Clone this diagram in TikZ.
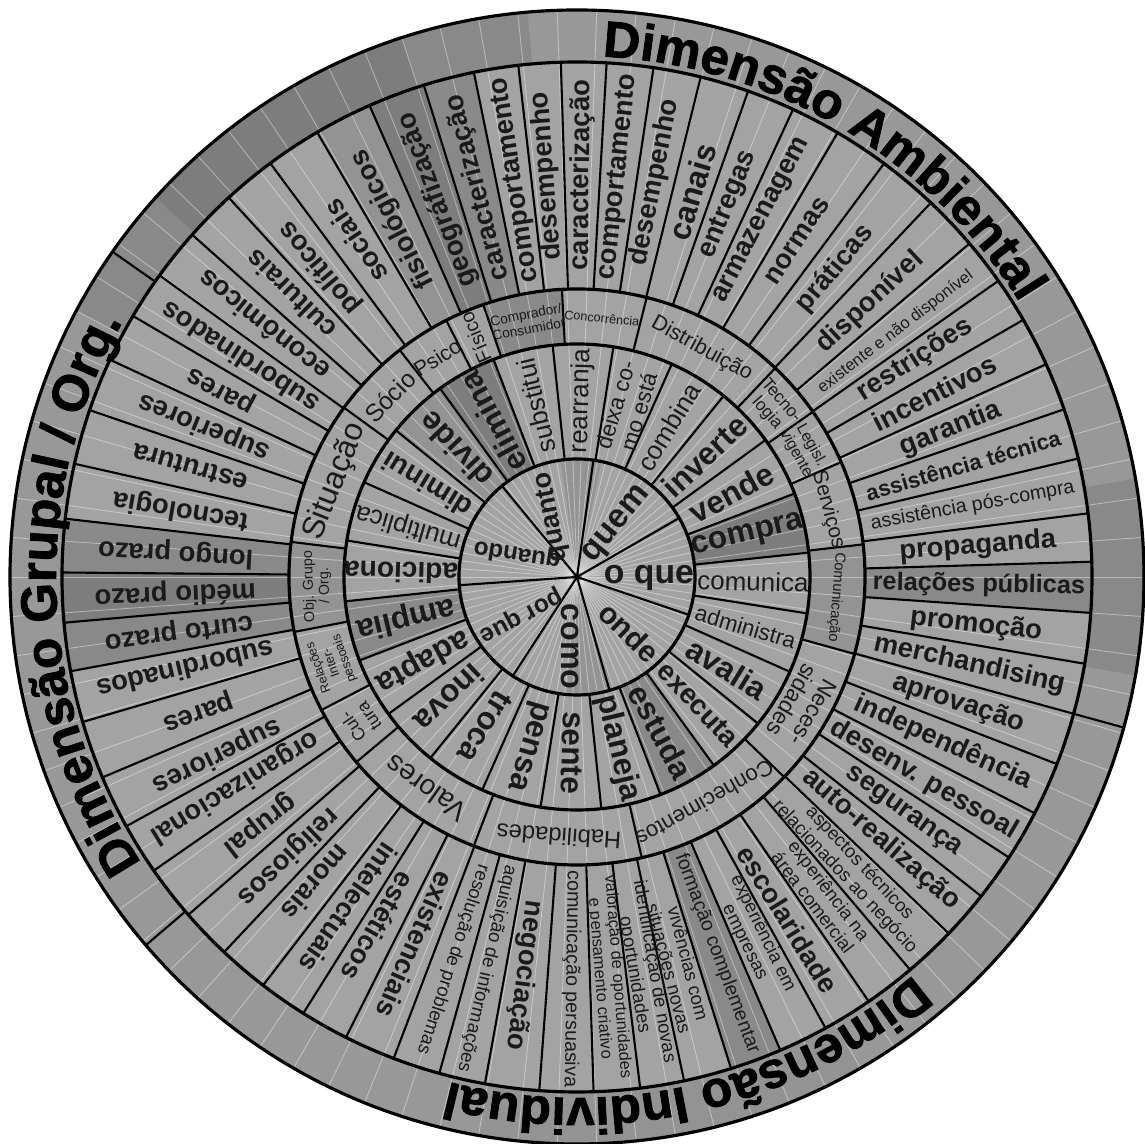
\documentclass[tikz,border=0pt]{standalone}
\usepackage{fontspec}
\setmainfont{Liberation Sans}
\newfontfamily\heavyfont{Liberation Sans Bold}[FakeBold=1.6]
\usetikzlibrary{decorations.text}

\definecolor{ringbase}{HTML}{989898}
\definecolor{facebase}{HTML}{A3A3A3}
\definecolor{shadeA}{HTML}{7D7D7D}
\definecolor{shadeB}{HTML}{898989}
\definecolor{shadeC}{HTML}{939393}
\definecolor{ink}{HTML}{1A1A1A}

\newcommand{\fsz}[1]{\fontsize{#1}{#1}\selectfont\baselineskip=1.08em\relax}
% filled piece of an annulus: r_in, r_out, angle from, angle to, colour
\newcommand{\ringpart}[5]{%
  \fill[#5] (#3:#1) arc[start angle=#3,end angle=#4,radius=#1]
    -- (#4:#2) arc[start angle=#4,end angle=#3,radius=#2] -- cycle;}

\tikzset{
  rim/.style={line width=0.9pt,draw=black},
  spoke/.style={line width=0.6pt,draw=black},
  fine/.style={draw=white,line width=0.25pt,opacity=0.4},
  word/.style={text=ink,inner sep=0pt,align=center},
  qw/.style={word,font=\bfseries\fsz{#1}},
  vb/.style={word,font=\bfseries\fsz{9}},
  vm/.style={word,font=\bfseries\fsz{8}},
  vr/.style={word,font=\fsz{7.4}},
  vs/.style={word,font=\fsz{6.4}},
  cat/.style={word,font=\fsz{#1}},
  ob/.style={word,font=\bfseries\fsz{7.8}},
  obs/.style={word,font=\bfseries\fsz{7.2}},
  obb/.style={word,font=\bfseries\fsz{9}},
  om/.style={word,font=\bfseries\fsz{6.3}},
  or/.style={word,font=\fsz{5.6}},
  os/.style={word,font=\fsz{5.3}},
  ot/.style={word,font=\fsz{4.7}},
  rimtext/.style={decorate,decoration={text along path,text align=center,
    text={|\heavyfont\fontsize{14.5}{15}\selectfont|#1}}},
}

\begin{document}
\begin{tikzpicture}
  \useasboundingbox (-5.77,-5.67) rectangle (5.68,5.77);
  % ground tones
  \fill[ringbase] (0,0) circle (5.67);
  \fill[facebase] (0,0) circle (5.15);
  \ringpart{5.15}{5.67}{95}{152}{shadeB}
  \ringpart{5.15}{5.67}{108}{138}{shadeA}
  \ringpart{5.15}{5.67}{-10}{10}{shadeB}
  \ringpart{5.15}{5.67}{-100}{-60}{shadeC}
  \ringpart{2.88}{5.15}{179.5}{185.1}{shadeA}
  \ringpart{2.88}{5.15}{173.5}{179.5}{shadeB}
  \ringpart{2.88}{5.15}{185.1}{190.55}{shadeB}
  \ringpart{2.88}{5.15}{-4}{1.7}{shadeB}
  \ringpart{2.88}{5.15}{107.3}{113.75}{shadeA}
  \ringpart{2.88}{5.15}{101.55}{107.3}{shadeB}
  \ringpart{2.88}{5.15}{113.75}{120.3}{shadeC}
  \ringpart{2.88}{5.15}{-72.6}{-66.75}{shadeB}
  \ringpart{2.33}{2.88}{93}{109}{shadeB}
  \ringpart{2.33}{2.88}{-15.5}{6.5}{shadeC}
  \ringpart{2.33}{2.88}{173}{191}{shadeC}
  \ringpart{1.18}{2.33}{6}{21}{shadeA}
  \ringpart{1.18}{2.33}{111}{126}{shadeA}
  \ringpart{1.18}{2.33}{126}{141}{shadeC}
  \ringpart{1.18}{2.33}{186}{201}{shadeB}
  \ringpart{1.18}{2.33}{-69}{-54}{shadeB}
  \ringpart{0.001}{1.18}{78}{98}{shadeC}
  \ringpart{0.001}{1.18}{-95}{-72}{shadeC}
  \foreach \a in {0,4,...,356}
    \draw[fine] (\a:0.05) -- (\a:5.67);

  % circles and dividers
  \foreach \r in {1.18,2.33,2.88,5.15,5.67}
    \draw[rim] (0,0) circle (\r);
  \foreach \a in {30,82,129.5,184,237,286,341.3}
    \draw[spoke] (0,0) -- (\a:1.18);
  \foreach \k in {0,...,23}
    \draw[spoke] ({96-15*\k}:1.18) -- ({96-15*\k}:2.33);
  \foreach \a in {144,128,117,109,93,76,46.5,35,23.5,6.5,-15.5,-44,-77,-111,-140,207.5,191,173}
    \draw[spoke] (\a:2.33) -- (\a:2.88);
  \foreach \a in {107.3,101.55,96.55,91.8,86.7,81.45,76.1,70.6,65.2,59.6,53.4,46.6,40.35,35.1,29.95,24.4,19,13.3,
      7.1,1.7,-4,-9.7,-15.4,-21.3,-27.3,-33,-38.3,-43.8,-49.7,-55.5,-61.15,-66.75,-72.6,-78,-82.95,-88.15,
      -94.2,-100.3,-105.5,-110.85,-116.65,-122.1,-127.55,-133.25,-139,-145.25,-151.05,-157.1,-163.65,
      -169.45,-174.9,179.5,173.5,167.3,161.1,155.05,149.55,144.15,138.35,132.55,126.55,120.3,113.75}
    \draw[spoke] (\a:2.88) -- (\a:5.15);
  \foreach \a in {145,220.5,344.6}
    \draw[spoke] (\a:5.15) -- (\a:5.67);

  % centre: question words
  \node[qw=9.5,rotate=51] (qquem) at (52:0.66) {quem};
  \node[qw=9.6] (qoque) at (-1:0.72) {o que};
  \node[qw=8.5,rotate=-44] (qonde) at (-46.6:0.76) {onde};
  \node[qw=9.2,rotate=-90] (qcomo) at (-96:0.70) {como};
  \node[qw=7,rotate=208] (qporque) at (213.7:0.68) {por que};
  \node[qw=6.9,rotate=171] (qquando) at (159:0.64) {quando};
  \node[qw=7.7,rotate=101] (qquanto) at (112.6:0.65) {quanto};

  % verbs
  \foreach \t/\s [count=\k from 0] in {rearranja/vr,{deixa co-\\mo está}/vs,combina/vr,inverte/vb,vende/vb,
      compra/vb,comunica/vr,administra/vs,avalia/vb,executa/vm,estuda/vb,planeja/vb,sente/vb,pensa/vb,
      troca/vb,inova/vb,adapta/vb,amplia/vb,adiciona/vm,multiplica/vr,diminui/vm,divide/vb,elimina/vb,
      substitui/vr}
    \node[\s,rotate={88.5-15*\k}] (v\k) at ({88.5-15*\k}:1.76) {\t};

  % categories
  \foreach \a/\t/\z [count=\k] in {84.5/Concorrência/3.6,101/{Comprador/\\Consumidor}/3.9,122.5/Psico/6,
      136/Sócio/7,158.5/Situação/9,182/{Obj. Grupo\\/ Org.}/4.1,199.3/{Relações\\Inter-\\pessoais}/3.6,
      213.8/{Cul-\\tura}/5,234.5/Valores/8,266/Habilidades/6.8,299.5/Conhecimentos/6.3,
      330.2/{Neces-\\sidades}/6.5,355.5/Comunicação/4.2,15/Serviços/5.9,29.3/{Legisl.\\vigente}/4.5,
      40.8/{Tecno-\\logia}/4.9,61.3/Distribuição/6.1}
    \node[cat=\z,rotate=\a-90] (c\k) at (\a:2.6) {\t};
  \node[cat=5.6,rotate=113] (cfisico) at (113:2.6) {Físico};

  % outer items
  \foreach \a/\t/\s [count=\k] in {104.3/caracterização/ob,98.8/comportamento/ob,94.3/desempenho/ob,
      89.3/caracterização/ob,84.05/comportamento/ob,78.85/desempenho/ob,73.35/canais/obb,67.85/entregas/ob,
      62.5/armazenagem/ob,56.75/normas/ob,50.05/práticas/ob,43.15/disponível/ob,
      37.55/existente e não disponível/ot,32.7/restrições/ob,27.2/incentivos/ob,21.6/garantia/ob,
      16.15/assistência técnica/om,10.2/assistência pós-compra/or,4.4/propaganda/ob,
      -1.15/relações públicas/obs,-6.85/promoção/ob,-12.55/merchandising/ob,-18.3/aprovação/ob,
      -24.3/independência/ob,-30.3/desenv. pessoal/ob,-35.8/segurança/ob,-40.8/auto-realização/ob,
      -46.8/{aspectos técnicos\\relacionados ao negócio}/os,-52.6/{experiência na\\área comercial}/os,
      -58.4/escolaridade/ob,-63.9/{experiência em\\empresas}/os,-69.6/formação complementar/or,
      -75.6/{vivências com\\situações novas}/os,-80.4/{identificação de novas\\oportunidades}/os,
      -85.5/{valoração de oportunidades\\e pensamento criativo}/ot,-90.8/comunicação persuasiva/or,
      -97.6/negociação/ob,-103/aquisição de informações/os,-108/resolução de problemas/os,
      -113.7/existenciais/ob,-119.6/estéticos/ob,-124.6/intelectuais/ob,-130.5/morais/ob,
      -136/religiosos/ob,-142/grupal/ob,-148.5/organizacional/ob,-153.6/superiores/ob,
      -160.6/pares/ob,-166.7/subordinados/ob,-172.2/curto prazo/ob,182.4/médio prazo/ob,
      176.6/longo prazo/ob,170.4/tecnologia/ob,164.2/estrutura/ob,158/superiores/ob,152.1/pares/ob,
      147/subordinados/ob,141.3/econômicos/ob,135.4/culturais/ob,129.7/políticos/ob,
      123.4/sociais/ob,117.2/fisiológicos/ob,110.3/geográfização/ob}
    \node[\s,rotate=\a] (o\k) at (\a:4.02) {\t};

  % dimension titles along the rim
  \path[rimtext={Dimensão Ambiental}]
    (98:5.21) arc[start angle=98,end angle=21,radius=5.21];
  \path[rimtext={Dimensão Individual}]
    (-36:5.21) arc[start angle=-36,end angle=-118,radius=5.21];
  \path[rimtext={Dimensão Grupal / Org.}]
    (226:5.21) arc[start angle=226,end angle=138,radius=5.21];
\end{tikzpicture}
\end{document}
